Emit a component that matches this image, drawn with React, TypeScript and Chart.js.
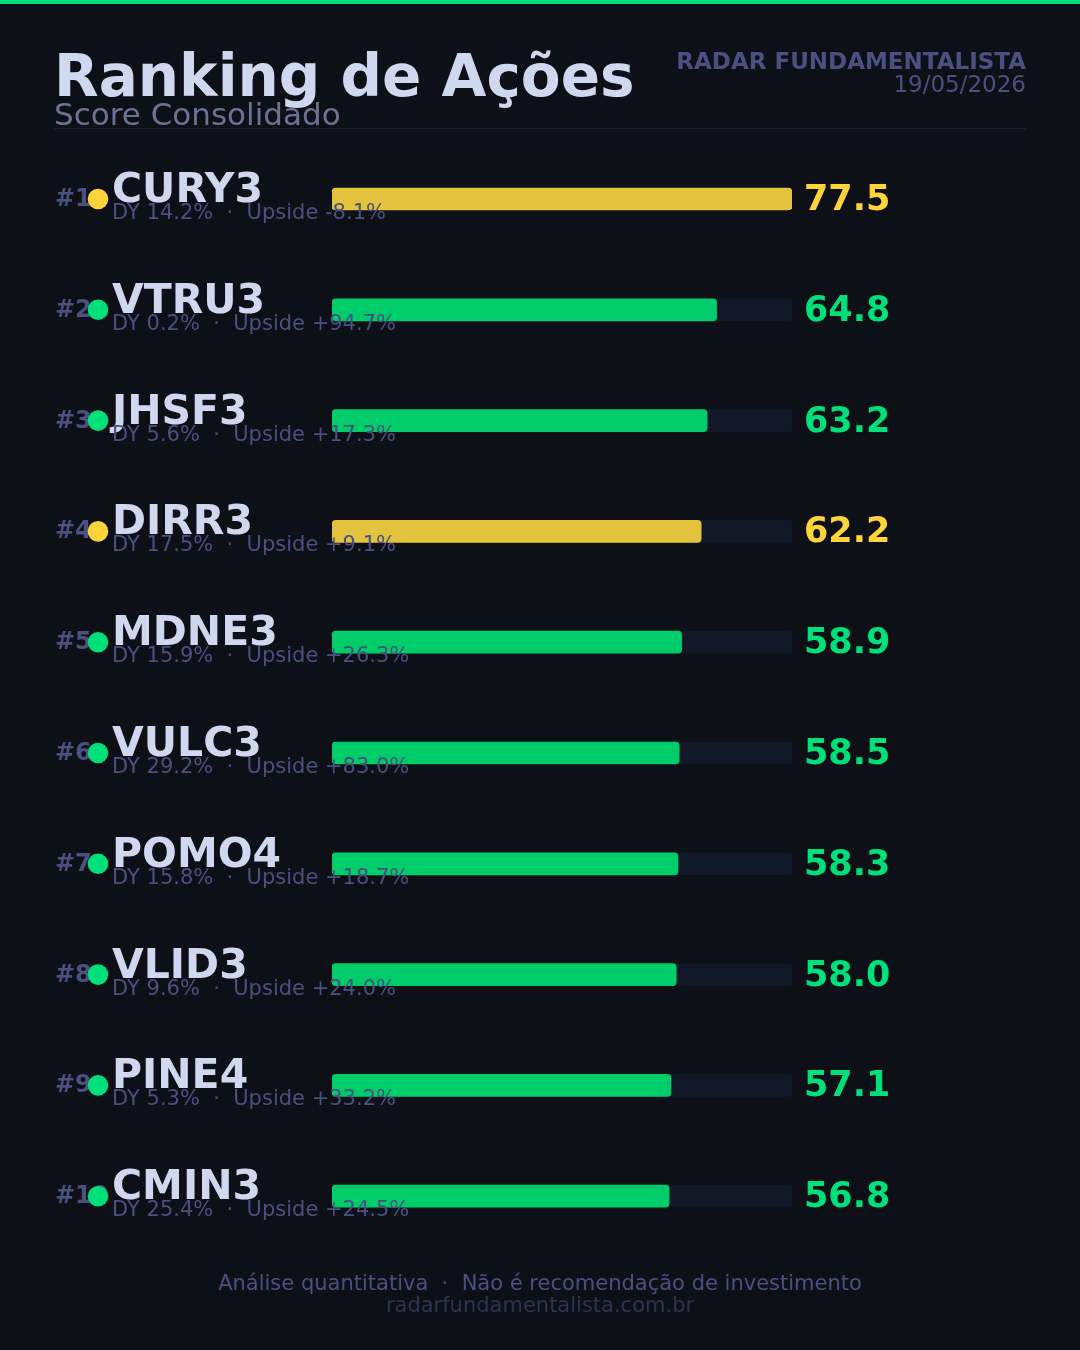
import React, { useEffect, useRef } from "react";
import { Chart, registerables } from "chart.js";

Chart.register(...registerables);

const tickers = ["CURY3", "VTRU3", "JHSF3", "DIRR3", "MDNE3", "VULC3", "POMO4", "VLID3", "PINE4", "CMIN3"];
const scores = [77.5, 64.8, 63.2, 62.2, 58.9, 58.5, 58.3, 58.0, 57.1, 56.8];
const dividendYields = [14.2, 0.2, 5.6, 17.5, 15.9, 29.2, 15.8, 9.6, 5.3, 25.4];
const upsides = [-8.1, 94.7, 17.3, 9.1, 26.3, 83.0, 18.7, 24.0, 33.2, 24.5];
const highlight = ["yellow", "green", "green", "yellow", "green", "green", "green", "green", "green", "green"];

const TITLE = "Ranking de Ações";
const SUBTITLE = "Score Consolidado";
const BRAND = "RADAR FUNDAMENTALISTA";
const DATE = "19/05/2026";
const FOOTER1 = "Análise quantitativa  ·  Não é recomendação de investimento";
const FOOTER2 = "radarfundamentalista.com.br";

const BG = "#0d1017";
const TRACK = "#111827";
const BAR_COLORS: Record<string, string> = { yellow: "#e3c33d", green: "#00cc6a" };
const TEXT_COLORS: Record<string, string> = { yellow: "#ffd43b", green: "#00e07a" };
const DOT_COLORS: Record<string, string> = { yellow: "#ffd43b", green: "#00e07a" };
const MUTED = "#4a5080";
const LIGHT = "#d0d8f0";
const FONT = "'DejaVu Sans', sans-serif";

const fmtPct = (v: number) => v.toFixed(1) + "%";
const fmtSigned = (v: number) => (v >= 0 ? "+" : "") + v.toFixed(1) + "%";

export default function App() {
  const ref = useRef<HTMLCanvasElement | null>(null);

  useEffect(() => {
    const canvas = ref.current;
    if (!canvas) return;
    const maxScore = Math.max(...scores);

    const decor = {
      id: "decor",
      beforeDraw(chart: any) {
        const ctx = chart.ctx;
        ctx.save();
        ctx.fillStyle = BG;
        ctx.fillRect(0, 0, chart.width, chart.height);
        ctx.fillStyle = "#00e07a";
        ctx.fillRect(0, 0, chart.width, 4);
        ctx.restore();
      },
      afterDraw(chart: any) {
        const ctx = chart.ctx;
        const yScale = chart.scales.y;
        const area = chart.chartArea;
        ctx.save();
        ctx.textBaseline = "alphabetic";
        // header
        ctx.textAlign = "left";
        ctx.fillStyle = LIGHT;
        ctx.font = `bold 58px ${FONT}`;
        ctx.fillText(TITLE, 54, 96);
        ctx.fillStyle = "#6b7394";
        ctx.font = `31px ${FONT}`;
        ctx.fillText(SUBTITLE, 54, 125);
        ctx.textAlign = "right";
        ctx.fillStyle = MUTED;
        ctx.font = `bold 23px ${FONT}`;
        ctx.fillText(BRAND, 1026, 69);
        ctx.font = `23px ${FONT}`;
        ctx.fillText(DATE, 1026, 92);
        ctx.fillStyle = "#1a2033";
        ctx.fillRect(54, 128, 972, 1);

        // rows
        tickers.forEach((t, i) => {
          const yc = yScale.getPixelForValue(i);
          const key = highlight[i];
          ctx.textAlign = "left";
          ctx.fillStyle = MUTED;
          ctx.font = `bold 24px ${FONT}`;
          ctx.fillText("#" + (i + 1), 55, yc + 7);
          ctx.beginPath();
          ctx.arc(98, yc, 10.3, 0, Math.PI * 2);
          ctx.fillStyle = DOT_COLORS[key];
          ctx.fill();
          ctx.fillStyle = LIGHT;
          ctx.font = `bold 41px ${FONT}`;
          ctx.fillText(t, 112, yc + 3);
          ctx.fillStyle = MUTED;
          ctx.font = `21px ${FONT}`;
          ctx.fillText(`DY ${fmtPct(dividendYields[i])}  ·  Upside ${fmtSigned(upsides[i])}`, 112, yc + 20);
          ctx.fillStyle = TEXT_COLORS[key];
          ctx.font = `bold 35px ${FONT}`;
          ctx.fillText(scores[i].toFixed(1), area.right + 12, yc + 11);
        });

        // footer
        ctx.textAlign = "center";
        ctx.fillStyle = MUTED;
        ctx.font = `21px ${FONT}`;
        ctx.fillText(FOOTER1, 540, 1290);
        ctx.fillStyle = "#2e3450";
        ctx.fillText(FOOTER2, 540, 1312);
        ctx.restore();
      },
    };

    const chart = new Chart(canvas, {
      type: "bar",
      data: {
        labels: tickers,
        datasets: [
          {
            label: "Score",
            data: scores,
            backgroundColor: highlight.map((k) => BAR_COLORS[k]),
            borderRadius: 4,
            borderSkipped: false,
            barThickness: 22,
            grouped: false,
            order: 0,
          },
          {
            label: "Track",
            data: scores.map(() => maxScore),
            backgroundColor: TRACK,
            borderRadius: 4,
            borderSkipped: false,
            barThickness: 22,
            grouped: false,
            order: 1,
          },
        ],
      },
      options: {
        indexAxis: "y",
        responsive: false,
        animation: false,
        devicePixelRatio: 1,
        layout: { padding: { left: 332, right: 288, top: 143.6, bottom: 98.4 } },
        scales: {
          x: { display: false, min: 0, max: maxScore },
          y: { display: false },
        },
        plugins: { legend: { display: false }, tooltip: { enabled: false } },
      },
      plugins: [decor],
    } as any);

    return () => chart.destroy();
  }, []);

  return (
    <div style={{ position: "fixed", left: 0, top: 0, width: 1080, height: 1350, background: BG }}>
      <canvas ref={ref} width={1080} height={1350} style={{ display: "block" }} />
    </div>
  );
}
